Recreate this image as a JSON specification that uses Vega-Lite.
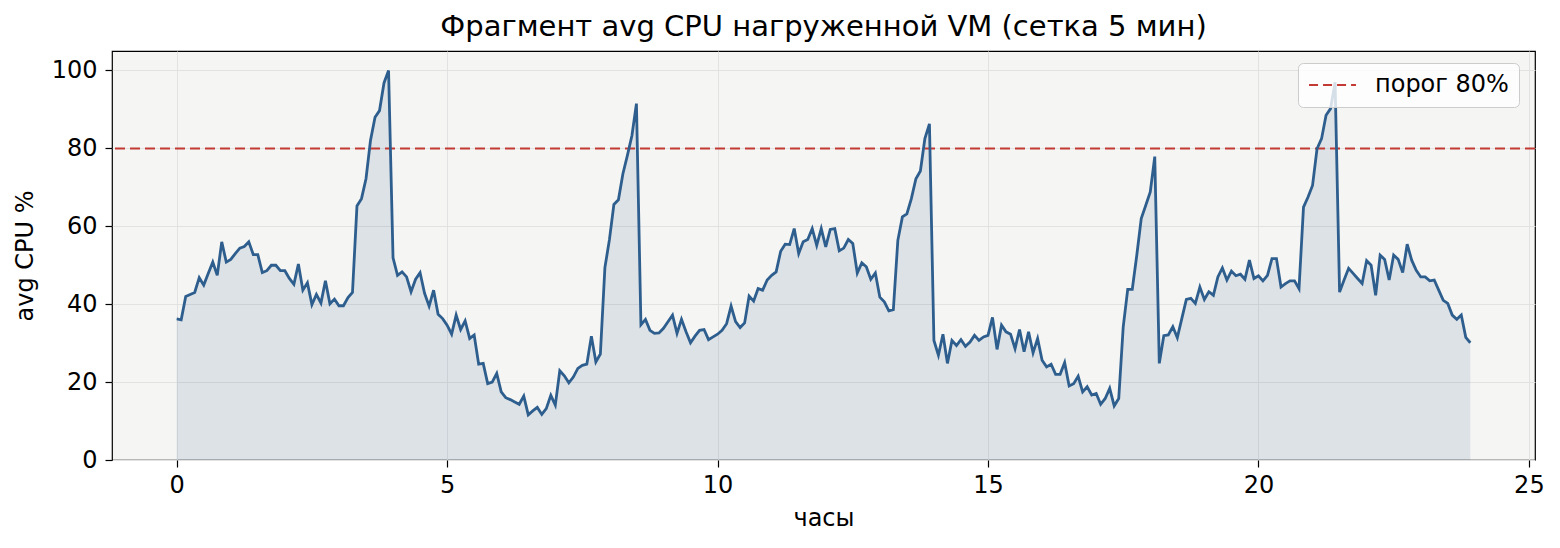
{
  "$schema": "https://vega.github.io/schema/vega-lite/v6.json",
  "autosize": {"type": "none"},
  "padding": {"left": 112, "top": 51, "right": 25, "bottom": 88},
  "width": 1423,
  "height": 409,
  "background": "white",
  "title": {
    "text": "Фрагмент avg CPU нагруженной VM (сетка 5 мин)",
    "fontSize": 29,
    "fontWeight": "normal",
    "color": "#000000",
    "offset": 9
  },
  "config": {
    "font": "DejaVu Sans",
    "view": {"fill": "#f5f5f3", "stroke": "#000000", "strokeWidth": 1.2},
    "axis": {
      "domain": false,
      "grid": true,
      "gridColor": "#e2e2e2",
      "gridWidth": 1,
      "tickColor": "#000000",
      "tickSize": 7,
      "tickWidth": 1.2,
      "labelFont": "DejaVu Sans",
      "labelFontSize": 24,
      "labelColor": "#000000",
      "titleFont": "DejaVu Sans",
      "titleFontSize": 24,
      "titleFontWeight": "normal",
      "titleColor": "#000000"
    }
  },
  "data": {
    "values": [
      {"h":0,"v":36.2},{"h":0.083,"v":36},{"h":0.167,"v":42},{"h":0.25,"v":42.5},{"h":0.333,"v":43},{"h":0.417,"v":46.8},{"h":0.5,"v":44.9},{"h":0.583,"v":47.9},{"h":0.667,"v":50.8},{"h":0.75,"v":47.4},{"h":0.833,"v":56},{"h":0.917,"v":50.8},
      {"h":1,"v":51.5},{"h":1.083,"v":53},{"h":1.167,"v":54.4},{"h":1.25,"v":54.8},{"h":1.333,"v":56},{"h":1.417,"v":52.7},{"h":1.5,"v":52.7},{"h":1.583,"v":48.1},{"h":1.667,"v":48.6},{"h":1.75,"v":50},{"h":1.833,"v":50},{"h":1.917,"v":48.6},
      {"h":2,"v":48.6},{"h":2.083,"v":46.6},{"h":2.167,"v":45.1},{"h":2.25,"v":50.3},{"h":2.333,"v":43.6},{"h":2.417,"v":45.5},{"h":2.5,"v":39.9},{"h":2.583,"v":42.5},{"h":2.667,"v":40.3},{"h":2.75,"v":46},{"h":2.833,"v":40.1},{"h":2.917,"v":41.3},
      {"h":3,"v":39.6},{"h":3.083,"v":39.6},{"h":3.167,"v":41.7},{"h":3.25,"v":43},{"h":3.333,"v":65.2},{"h":3.417,"v":67.1},{"h":3.5,"v":72.2},{"h":3.583,"v":82},{"h":3.667,"v":88},{"h":3.75,"v":89.7},{"h":3.833,"v":96.8},{"h":3.917,"v":100},
      {"h":4,"v":51.9},{"h":4.083,"v":47.4},{"h":4.167,"v":48.3},{"h":4.25,"v":47},{"h":4.333,"v":43.2},{"h":4.417,"v":46.4},{"h":4.5,"v":48.1},{"h":4.583,"v":42.8},{"h":4.667,"v":39.5},{"h":4.75,"v":43.6},{"h":4.833,"v":37.4},{"h":4.917,"v":36.3},
      {"h":5,"v":34.6},{"h":5.083,"v":32.3},{"h":5.167,"v":37.2},{"h":5.25,"v":33.5},{"h":5.333,"v":35.7},{"h":5.417,"v":31.2},{"h":5.5,"v":32.1},{"h":5.583,"v":24.6},{"h":5.667,"v":24.8},{"h":5.75,"v":19.6},{"h":5.833,"v":20},{"h":5.917,"v":22.2},
      {"h":6,"v":17.5},{"h":6.083,"v":16},{"h":6.167,"v":15.5},{"h":6.25,"v":14.9},{"h":6.333,"v":14.3},{"h":6.417,"v":16.4},{"h":6.5,"v":11.6},{"h":6.583,"v":12.6},{"h":6.667,"v":13.5},{"h":6.75,"v":11.7},{"h":6.833,"v":13.2},{"h":6.917,"v":16.6},
      {"h":7,"v":14.1},{"h":7.083,"v":22.9},{"h":7.167,"v":21.6},{"h":7.25,"v":19.8},{"h":7.333,"v":21.3},{"h":7.417,"v":23.5},{"h":7.5,"v":24.3},{"h":7.583,"v":24.6},{"h":7.667,"v":31.8},{"h":7.75,"v":25.2},{"h":7.833,"v":27.2},{"h":7.917,"v":49.4},
      {"h":8,"v":56.5},{"h":8.083,"v":65.6},{"h":8.167,"v":66.8},{"h":8.25,"v":73.5},{"h":8.333,"v":78.2},{"h":8.417,"v":83.3},{"h":8.5,"v":91.5},{"h":8.583,"v":34.7},{"h":8.667,"v":36.1},{"h":8.75,"v":33.3},{"h":8.833,"v":32.5},{"h":8.917,"v":32.6},
      {"h":9,"v":33.8},{"h":9.083,"v":35.5},{"h":9.167,"v":37.2},{"h":9.25,"v":32.5},{"h":9.333,"v":36.1},{"h":9.417,"v":32.9},{"h":9.5,"v":30.1},{"h":9.583,"v":31.8},{"h":9.667,"v":33.3},{"h":9.75,"v":33.5},{"h":9.833,"v":30.9},{"h":9.917,"v":31.6},
      {"h":10,"v":32.3},{"h":10.083,"v":33.3},{"h":10.167,"v":35},{"h":10.25,"v":39.5},{"h":10.333,"v":35.5},{"h":10.417,"v":34},{"h":10.5,"v":35.2},{"h":10.583,"v":42.1},{"h":10.667,"v":40.8},{"h":10.75,"v":44},{"h":10.833,"v":43.6},{"h":10.917,"v":46.2},
      {"h":11,"v":47.4},{"h":11.083,"v":48.3},{"h":11.167,"v":53.6},{"h":11.25,"v":55.4},{"h":11.333,"v":55.3},{"h":11.417,"v":59.4},{"h":11.5,"v":53},{"h":11.583,"v":56},{"h":11.667,"v":56.6},{"h":11.75,"v":59.4},{"h":11.833,"v":55.1},{"h":11.917,"v":59.4},
      {"h":12,"v":54.7},{"h":12.083,"v":59.2},{"h":12.167,"v":59.4},{"h":12.25,"v":53.7},{"h":12.333,"v":54.4},{"h":12.417,"v":56.6},{"h":12.5,"v":55.6},{"h":12.583,"v":48},{"h":12.667,"v":50.6},{"h":12.75,"v":49.6},{"h":12.833,"v":46.4},{"h":12.917,"v":48},
      {"h":13,"v":41.8},{"h":13.083,"v":40.6},{"h":13.167,"v":38.3},{"h":13.25,"v":38.6},{"h":13.333,"v":56.4},{"h":13.417,"v":62.4},{"h":13.5,"v":63.2},{"h":13.583,"v":67.1},{"h":13.667,"v":72.2},{"h":13.75,"v":74.2},{"h":13.833,"v":82.5},{"h":13.917,"v":86.3},
      {"h":14,"v":30.7},{"h":14.083,"v":26.9},{"h":14.167,"v":32.3},{"h":14.25,"v":24.8},{"h":14.333,"v":30.7},{"h":14.417,"v":29.4},{"h":14.5,"v":30.9},{"h":14.583,"v":29.2},{"h":14.667,"v":30.3},{"h":14.75,"v":32},{"h":14.833,"v":30.7},{"h":14.917,"v":31.6},
      {"h":15,"v":32},{"h":15.083,"v":36.6},{"h":15.167,"v":28.4},{"h":15.25,"v":34.6},{"h":15.333,"v":32.9},{"h":15.417,"v":32.3},{"h":15.5,"v":28.6},{"h":15.583,"v":33.5},{"h":15.667,"v":27.8},{"h":15.75,"v":32.9},{"h":15.833,"v":27.5},{"h":15.917,"v":31.2},
      {"h":16,"v":25.6},{"h":16.083,"v":23.9},{"h":16.167,"v":24.6},{"h":16.25,"v":22},{"h":16.333,"v":22},{"h":16.417,"v":25},{"h":16.5,"v":19},{"h":16.583,"v":19.6},{"h":16.667,"v":21.5},{"h":16.75,"v":17.5},{"h":16.833,"v":18.8},{"h":16.917,"v":16.7},
      {"h":17,"v":17.1},{"h":17.083,"v":14.3},{"h":17.167,"v":15.8},{"h":17.25,"v":18.4},{"h":17.333,"v":13.9},{"h":17.417,"v":15.8},{"h":17.5,"v":34.2},{"h":17.583,"v":43.8},{"h":17.667,"v":43.8},{"h":17.75,"v":52.5},{"h":17.833,"v":62},{"h":17.917,"v":65.4},
      {"h":18,"v":68.8},{"h":18.083,"v":77.9},{"h":18.167,"v":24.8},{"h":18.25,"v":31.9},{"h":18.333,"v":32.1},{"h":18.417,"v":34.2},{"h":18.5,"v":31.4},{"h":18.583,"v":36.3},{"h":18.667,"v":41.2},{"h":18.75,"v":41.5},{"h":18.833,"v":40.2},{"h":18.917,"v":44.4},
      {"h":19,"v":41.2},{"h":19.083,"v":43.2},{"h":19.167,"v":42.3},{"h":19.25,"v":47},{"h":19.333,"v":49.3},{"h":19.417,"v":46.2},{"h":19.5,"v":48.5},{"h":19.583,"v":47.3},{"h":19.667,"v":47.7},{"h":19.75,"v":46.4},{"h":19.833,"v":51.3},{"h":19.917,"v":46.6},
      {"h":20,"v":47.3},{"h":20.083,"v":46},{"h":20.167,"v":47.4},{"h":20.25,"v":51.7},{"h":20.333,"v":51.7},{"h":20.417,"v":44.4},{"h":20.5,"v":45.3},{"h":20.583,"v":46},{"h":20.667,"v":46},{"h":20.75,"v":44},{"h":20.833,"v":64.9},{"h":20.917,"v":67.5},
      {"h":21,"v":70.5},{"h":21.083,"v":79.9},{"h":21.167,"v":82.5},{"h":21.25,"v":88.5},{"h":21.333,"v":90.2},{"h":21.417,"v":97},{"h":21.5,"v":43.1},{"h":21.583,"v":46.2},{"h":21.667,"v":49.2},{"h":21.75,"v":47.9},{"h":21.833,"v":46.6},{"h":21.917,"v":45.3},
      {"h":22,"v":51.2},{"h":22.083,"v":50},{"h":22.167,"v":42.3},{"h":22.25,"v":52.6},{"h":22.333,"v":51.5},{"h":22.417,"v":46.2},{"h":22.5,"v":52.6},{"h":22.583,"v":51.5},{"h":22.667,"v":48.1},{"h":22.75,"v":55.4},{"h":22.833,"v":51.3},{"h":22.917,"v":48.7},
      {"h":23,"v":47},{"h":23.083,"v":47},{"h":23.167,"v":46},{"h":23.25,"v":46.2},{"h":23.333,"v":43.6},{"h":23.417,"v":41},{"h":23.5,"v":40.2},{"h":23.583,"v":37.2},{"h":23.667,"v":36.1},{"h":23.75,"v":37.2},{"h":23.833,"v":31.5},{"h":23.917,"v":30.1}
    ]
  },
  "encoding": {
    "x": {
      "field": "h",
      "type": "quantitative",
      "title": "часы",
      "scale": {"domain": [-1.196, 25.113], "nice": false, "zero": false},
      "axis": {"values": [0, 5, 10, 15, 20, 25], "labelPadding": 6, "titlePadding": 9, "labelFlush": false}
    },
    "y": {
      "field": "v",
      "type": "quantitative",
      "title": "avg CPU %",
      "scale": {"domain": [0, 105], "nice": false},
      "axis": {"values": [0, 20, 40, 60, 80, 100], "labelPadding": 8, "titlePadding": 14, "labelFlush": false}
    }
  },
  "layer": [
    {
      "mark": {"type": "area", "color": "#2e5e8e", "opacity": 0.12}
    },
    {
      "data": {"values": [{"y": 80, "label": "порог 80%"}]},
      "mark": {"type": "rule", "strokeDash": [10, 5], "strokeWidth": 2},
      "encoding": {
        "x": null,
        "y": {"field": "y", "type": "quantitative"},
        "color": {
          "field": "label",
          "type": "nominal",
          "scale": {"range": ["#c23a33"]},
          "legend": {
            "title": null,
            "orient": "none",
            "legendX": 1186,
            "legendY": 12,
            "symbolType": "stroke",
            "symbolSize": 2200,
            "symbolStrokeWidth": 2,
            "symbolDash": [9, 5],
            "clipHeight": 24,
            "labelFontSize": 24,
            "labelFont": "DejaVu Sans",
            "labelColor": "#000000",
            "labelOffset": 18,
            "padding": 10,
            "fillColor": "rgba(255,255,255,0.8)",
            "strokeColor": "#cccccc",
            "cornerRadius": 5
          }
        }
      }
    },
    {
      "mark": {"type": "line", "color": "#2e5e8e", "strokeWidth": 2.8}
    }
  ]
}
